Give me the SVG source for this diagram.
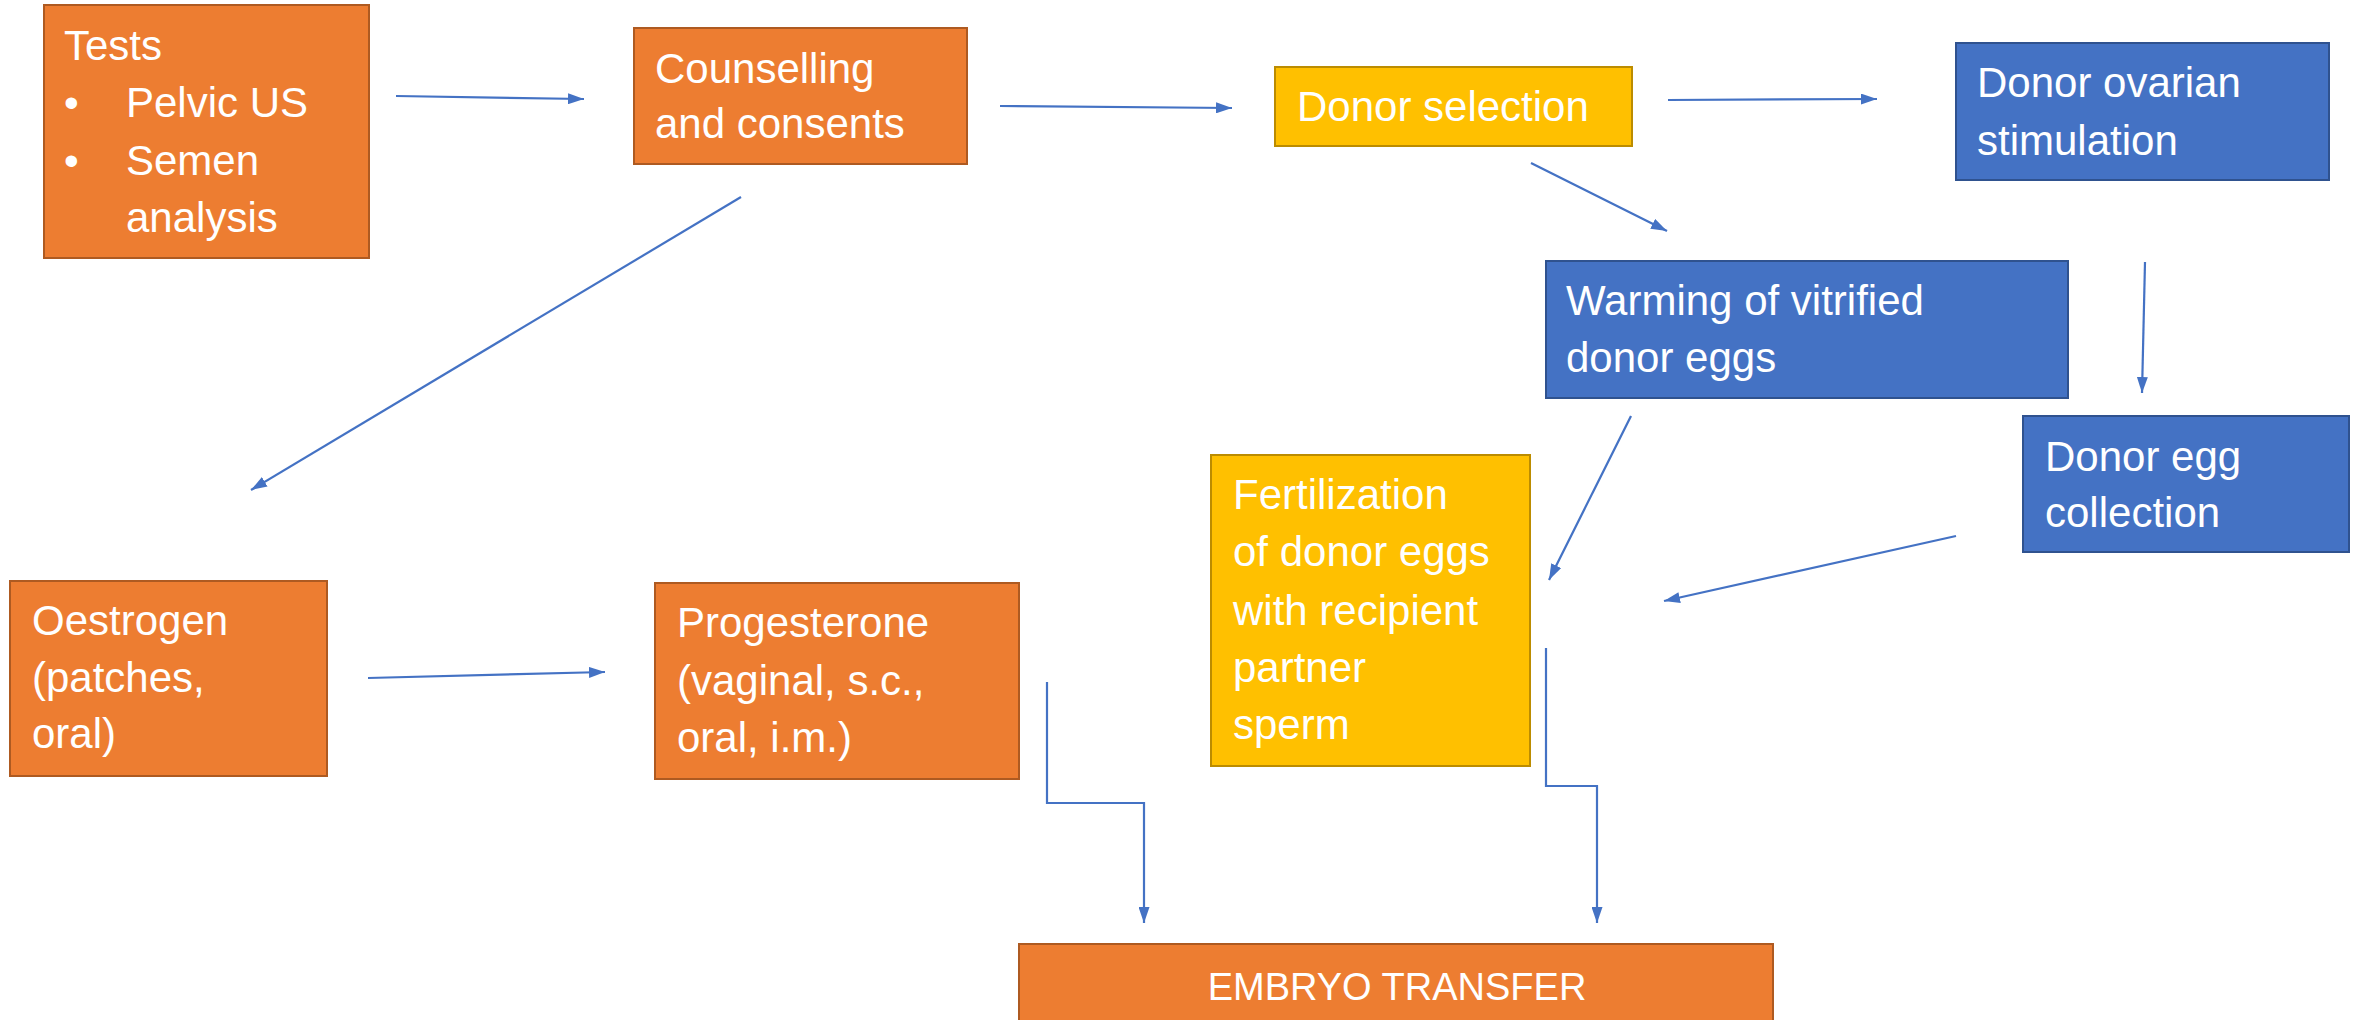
<svg xmlns="http://www.w3.org/2000/svg" width="2362" height="1020" viewBox="0 0 2362 1020">
<style>
.box{stroke-width:2}
.or{fill:#ED7D31;stroke:#AE5A21}
.ye{fill:#FFC000;stroke:#BC8C00}
.bl{fill:#4472C4;stroke:#2F528F}
.t{fill:#FFFFFF;font-family:"Liberation Sans",Arial,sans-serif;font-size:42px}
.t.sm{font-size:38px}
.c{fill:none;stroke:#4472C4;stroke-width:2.2;marker-end:url(#ah)}
</style>
<defs>
<marker id="ah" markerUnits="userSpaceOnUse" markerWidth="16" markerHeight="11" refX="16" refY="5.5" orient="auto">
<path d="M0,0 L16,5.5 L0,11 Z" fill="#4472C4"/>
</marker>
</defs>
<rect width="2362" height="1020" fill="#FFFFFF"/>
<g id="connectors">
<line class="c" x1="396" y1="96" x2="584" y2="99"/>
<line class="c" x1="1000" y1="106" x2="1232" y2="108"/>
<line class="c" x1="1668" y1="100" x2="1877" y2="99"/>
<line class="c" x1="741" y1="197" x2="251" y2="490"/>
<line class="c" x1="1531" y1="163" x2="1667" y2="231"/>
<line class="c" x1="2145" y1="262" x2="2142" y2="393"/>
<line class="c" x1="1631" y1="416" x2="1549" y2="580"/>
<line class="c" x1="1956" y1="536" x2="1664" y2="601"/>
<line class="c" x1="368" y1="678" x2="605" y2="672"/>
<polyline class="c" points="1047,682 1047,803 1144,803 1144,923"/>
<polyline class="c" points="1546,648 1546,786 1597,786 1597,923"/>
</g>
<g id="tests">
<rect class="box or" x="44" y="5" width="325" height="253"/>
<text class="t" x="64" y="60">Tests</text>
<text class="t" x="64" y="117">•</text>
<text class="t" x="126" y="117">Pelvic US</text>
<text class="t" x="64" y="175">•</text>
<text class="t" x="126" y="175">Semen</text>
<text class="t" x="126" y="232">analysis</text>
</g>
<g id="counselling">
<rect class="box or" x="634" y="28" width="333" height="136"/>
<text class="t" x="655" y="83">Counselling</text>
<text class="t" x="655" y="138">and consents</text>
</g>
<g id="donor-selection">
<rect class="box ye" x="1275" y="67" width="357" height="79"/>
<text class="t" x="1297" y="121">Donor selection</text>
</g>
<g id="donor-ovarian-stimulation">
<rect class="box bl" x="1956" y="43" width="373" height="137"/>
<text class="t" x="1977" y="97">Donor ovarian</text>
<text class="t" x="1977" y="155">stimulation</text>
</g>
<g id="warming">
<rect class="box bl" x="1546" y="261" width="522" height="137"/>
<text class="t" x="1566" y="315">Warming of vitrified</text>
<text class="t" x="1566" y="372">donor eggs</text>
</g>
<g id="donor-egg-collection">
<rect class="box bl" x="2023" y="416" width="326" height="136"/>
<text class="t" x="2045" y="471">Donor egg</text>
<text class="t" x="2045" y="527">collection</text>
</g>
<g id="fertilization">
<rect class="box ye" x="1211" y="455" width="319" height="311"/>
<text class="t" x="1233" y="509">Fertilization</text>
<text class="t" x="1233" y="566">of donor eggs</text>
<text class="t" x="1233" y="625">with recipient</text>
<text class="t" x="1233" y="682">partner</text>
<text class="t" x="1233" y="739">sperm</text>
</g>
<g id="oestrogen">
<rect class="box or" x="10" y="581" width="317" height="195"/>
<text class="t" x="32" y="635">Oestrogen</text>
<text class="t" x="32" y="692">(patches,</text>
<text class="t" x="32" y="748">oral)</text>
</g>
<g id="progesterone">
<rect class="box or" x="655" y="583" width="364" height="196"/>
<text class="t" x="677" y="637">Progesterone</text>
<text class="t" x="677" y="695">(vaginal, s.c.,</text>
<text class="t" x="677" y="752">oral, i.m.)</text>
</g>
<g id="embryo-transfer">
<rect class="box or" x="1019" y="944" width="754" height="100"/>
<text class="t sm" x="1397" y="1000" text-anchor="middle">EMBRYO TRANSFER</text>
</g>
</svg>
